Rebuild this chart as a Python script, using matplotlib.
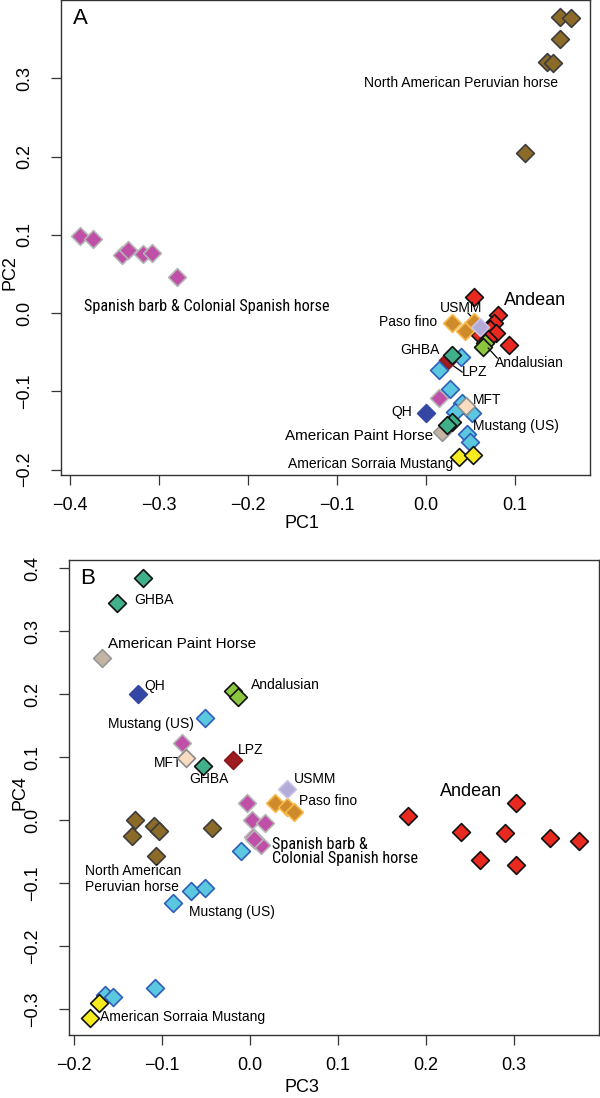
import numpy as np
import matplotlib
matplotlib.use("Agg")
from matplotlib import pyplot as plt
from matplotlib import font_manager

plt.rcParams['font.family'] = ['Liberation Sans', 'DejaVu Sans']

# PCA scores, one group per breed
andean_pc1 = [0.054, 0.081, 0.076, 0.072, 0.078, 0.061, 0.070, 0.0925]
andean_pc2 = [0.020, -0.003, -0.013, -0.020, -0.026, -0.028, -0.033, -0.041]
andean_pc3 = [0.302, 0.180, 0.240, 0.290, 0.341, 0.374, 0.262, 0.303]
andean_pc4 = [0.028, 0.006, -0.0185, -0.0196, -0.029, -0.033, -0.0627, -0.0714]

peruvian_pc1 = [0.1498, 0.163, 0.1498, 0.1356, 0.143, 0.111]
peruvian_pc2 = [0.378, 0.377, 0.350, 0.3206, 0.320, 0.204]
peruvian_pc3 = [-0.1307, -0.109, -0.1034, -0.1345, -0.0435, -0.107]
peruvian_pc4 = [0.0, -0.009, -0.0175, -0.0254, -0.013, -0.0567]

barb_pc1 = [-0.389, -0.3745, -0.342, -0.335, -0.318, -0.308, -0.280, 0.0146]
barb_pc2 = [0.098, 0.094, 0.074, 0.080, 0.075, 0.077, 0.046, -0.108]
barb_pc3 = [-0.0776, -0.004, 0.0027, 0.017, 0.003, 0.006, 0.013, 0.005]
barb_pc4 = [0.1227, 0.0265, 0.0, -0.005, -0.0265, -0.032, -0.040, -0.030]

pasofino_pc1 = [0.0289, 0.0438, 0.054]
pasofino_pc2 = [-0.0132, -0.0226, -0.011]
pasofino_pc3 = [0.0284, 0.0417, 0.050]
pasofino_pc4 = [0.0275, 0.021, 0.013]

usmm_pc1 = [0.0607]
usmm_pc2 = [-0.0175]
usmm_pc3 = [0.0424]
usmm_pc4 = [0.050]

andalusian_pc1 = [0.0663, 0.0644]
andalusian_pc2 = [-0.0388, -0.043]
andalusian_pc3 = [-0.019, -0.014]
andalusian_pc4 = [0.205, 0.196]

ghba_pc1 = [0.0296, 0.0289, 0.0233]
ghba_pc2 = [-0.0537, -0.139, -0.1432]
ghba_pc3 = [-0.122, -0.1515, -0.0538]
ghba_pc4 = [0.385, 0.345, 0.086]

lpz_pc1 = [0.025]
lpz_pc2 = [-0.060]
lpz_pc3 = [-0.0197]
lpz_pc4 = [0.095]

mustang_pc1 = [0.0393, 0.0146, 0.027, 0.040, 0.0326, 0.0513, 0.0457, 0.0494]
mustang_pc2 = [-0.056, -0.0729, -0.0976, -0.1155, -0.126, -0.1283, -0.154, -0.1646]
mustang_pc3 = [-0.051, -0.0102, -0.0674, -0.051, -0.088, -0.108, -0.165, -0.156]
mustang_pc4 = [0.162, -0.049, -0.1127, -0.108, -0.1307, -0.266, -0.277, -0.2806]

mft_pc1 = [0.045]
mft_pc2 = [-0.1185]
mft_pc3 = [-0.073]
mft_pc4 = [0.098]

qh_pc1 = [0.0]
qh_pc2 = [-0.1275]
qh_pc3 = [-0.127]
qh_pc4 = [0.200]

paint_pc1 = [0.0176]
paint_pc2 = [-0.1518]
paint_pc3 = [-0.169]
paint_pc4 = [0.258]

sorraia_pc1 = [0.0374, 0.0525]
sorraia_pc2 = [-0.1838, -0.1816]
sorraia_pc3 = [-0.1716, -0.1826]
sorraia_pc4 = [-0.290, -0.3135]

ticks_pc1 = [-0.4, -0.3, -0.2, -0.1, 0.0, 0.1]
ticks_pc2 = [-0.2, -0.1, 0.0, 0.1, 0.2, 0.3]
ticks_pc3 = [-0.2, -0.1, 0.0, 0.1, 0.2, 0.3]
ticks_pc4 = [-0.3, -0.2, -0.1, 0.0, 0.1, 0.2, 0.3, 0.4]

# drawing order, face colour, edge colour
groups = [
    (barb_pc1, barb_pc2, barb_pc3, barb_pc4, '#c04fa8', '#b4b4b4'),
    (peruvian_pc1, peruvian_pc2, peruvian_pc3, peruvian_pc4, '#8c6a28', '#3c3c3c'),
    (andean_pc1, andean_pc2, andean_pc3, andean_pc4, '#e8291f', '#111111'),
    (pasofino_pc1, pasofino_pc2, pasofino_pc3, pasofino_pc4, '#cf8a2c', '#f6b94a'),
    (usmm_pc1, usmm_pc2, usmm_pc3, usmm_pc4, '#b3acd9', '#c9c2e8'),
    (andalusian_pc1, andalusian_pc2, andalusian_pc3, andalusian_pc4, '#8cc63f', '#111111'),
    (lpz_pc1, lpz_pc2, lpz_pc3, lpz_pc4, '#9e1b20', '#8a161a'),
    (paint_pc1, paint_pc2, paint_pc3, paint_pc4, '#c4b4a4', '#969696'),
    (mustang_pc1, mustang_pc2, mustang_pc3, mustang_pc4, '#5bc8e0', '#2e5eb8'),
    (ghba_pc1, ghba_pc2, ghba_pc3, ghba_pc4, '#40b08a', '#111111'),
    (mft_pc1, mft_pc2, mft_pc3, mft_pc4, '#fadcc0', '#8c8c8c'),
    (qh_pc1, qh_pc2, qh_pc3, qh_pc4, '#3447a5', '#3447a5'),
    (sorraia_pc1, sorraia_pc2, sorraia_pc3, sorraia_pc4, '#f5eb1e', '#111111'),
]


# look for any narrow/condensed upright regular face for the "Spanish barb" labels
def find_narrow():
    best = None
    for f in font_manager.fontManager.ttflist:
        if f.style != 'normal':
            continue
        if str(f.weight) not in ('400', 'normal', 'regular', 'book'):
            continue
        nm = (f.name + ' ' + f.fname).lower()
        is_narrow = ('narrow' in nm or 'condensed' in nm or 'cond' in nm
                     or str(f.stretch) in ('condensed', 'semi-condensed', 'extra-condensed')
                     or (isinstance(f.stretch, int) and f.stretch < 500))
        if not is_narrow or 'mono' in nm or 'serif' in nm and 'sans' not in nm:
            continue
        rank = 0 if 'liberation' in nm else 1 if 'roboto' in nm else 2 if 'open' in nm else 3
        if best is None or rank < best[0]:
            best = (rank, f.fname)
    return best[1] if best else None


narrow = find_narrow()
if narrow is not None:
    narrow_fp = font_manager.FontProperties(fname=narrow)
else:
    narrow_fp = font_manager.FontProperties(family='Liberation Sans')

W, H = 600, 1098
fig = plt.figure(figsize=(W / 100, H / 100), dpi=100)


def px_axes(l, t, r, b):
    return fig.add_axes([l / W, 1 - b / H, (r - l) / W, (b - t) / H])


def fmt(v):
    return ('%.1f' % v).replace('-', '\u2212') if abs(v) > 1e-9 else '0.0'


def style(ax, xt, yt):
    ax.set_xticks(xt)
    ax.set_yticks(yt)
    ax.set_xticklabels([fmt(v) for v in xt])
    ax.set_yticklabels([fmt(v) for v in yt])
    ax.tick_params(direction='out', length=7, width=0.9, labelsize=13, color='#333333')
    ax.tick_params(axis='x', pad=9)
    ax.tick_params(axis='y', labelrotation=90, pad=13)
    for lbl in ax.get_yticklabels():
        lbl.set_va('center')
    for s in ax.spines.values():
        s.set_linewidth(1.0)
        s.set_color('#333333')


def fit_width(t, target_px):
    fig.canvas.draw()
    w = t.get_window_extent().width
    t.set_fontsize(t.get_fontsize() * target_px / w)


MS = 82
LW = 1.2

# ---- panel A: PC1 vs PC2
axA = px_axes(61, 0, 590, 475)
for g in groups:
    axA.scatter(g[0], g[1], marker='D', s=MS, c=g[4], edgecolors=g[5], linewidths=LW, zorder=3)
axA.set_xlim(-0.410, 0.184)
axA.set_ylim(-0.207, 0.400)
style(axA, ticks_pc1, ticks_pc2)
axA.text(0.023, 0.962, 'A', transform=axA.transAxes, fontsize=16, va='center', ha='left')

fs = 10
axA.text(0.148, 0.294, 'North American Peruvian horse', fontsize=fs, ha='right', va='center')
spA = axA.text(-0.384, 0.008, 'Spanish barb & Colonial Spanish horse', fontproperties=narrow_fp,
               fontsize=13, ha='left', va='center')
axA.text(0.0876, 0.0166, 'Andean', fontsize=13, ha='left', va='center')
axA.text(0.039, 0.006, 'USMM', fontsize=fs, ha='center', va='center')
axA.text(0.012, -0.011, 'Paso fino', fontsize=fs, ha='right', va='center')
axA.text(0.0775, -0.064, 'Andalusian', fontsize=fs, ha='left', va='center')
axA.text(0.0146, -0.047, 'GHBA', fontsize=fs, ha='right', va='center')
axA.text(0.040, -0.075, 'LPZ', fontsize=fs, ha='left', va='center')
axA.text(0.053, -0.111, 'MFT', fontsize=fs, ha='left', va='center')
axA.text(-0.016, -0.126, 'QH', fontsize=fs, ha='right', va='center')
axA.text(0.0525, -0.145, 'Mustang (US)', fontsize=fs, ha='left', va='center')
axA.text(0.0079, -0.157, 'American Paint Horse', fontsize=11, ha='right', va='center')
axA.text(0.030, -0.193, 'American Sorraia Mustang', fontsize=fs, ha='right', va='center')
axA.plot([0.047, 0.057], [0.0, -0.0128], color='black', lw=0.9, zorder=2)
axA.plot([0.0697, 0.0798], [-0.0448, -0.0575], color='black', lw=0.9, zorder=4)
axA.plot([0.0247, 0.0404], [-0.0627, -0.0754], color='black', lw=0.9, zorder=2)

fig.text(302 / W, 1 - 523 / H, 'PC1', fontsize=13, ha='center', va='center')
fig.text(10 / W, 1 - 273 / H, 'PC2', fontsize=13, ha='center', va='center', rotation=90)

# ---- panel B: PC3 vs PC4
axB = px_axes(69, 560, 599, 1035)
for g in groups:
    axB.scatter(g[2], g[3], marker='D', s=MS, c=g[4], edgecolors=g[5], linewidths=LW, zorder=3)
axB.set_xlim(-0.206, 0.397)
axB.set_ylim(-0.341, 0.413)
style(axB, ticks_pc3, ticks_pc4)
axB.text(0.021, 0.962, 'B', transform=axB.transAxes, fontsize=16, va='center', ha='left')

axB.text(-0.132, 0.350, 'GHBA', fontsize=fs, ha='left', va='center')
axB.text(-0.162, 0.280, 'American Paint Horse', fontsize=11, ha='left', va='center')
axB.text(-0.1205, 0.213, 'QH', fontsize=fs, ha='left', va='center')
axB.text(0.001, 0.214, 'Andalusian', fontsize=fs, ha='left', va='center')
axB.text(-0.0644, 0.153, 'Mustang (US)', fontsize=fs, ha='right', va='center')
axB.text(-0.0144, 0.111, 'LPZ', fontsize=fs, ha='left', va='center')
axB.text(-0.0765, 0.091, 'MFT', fontsize=fs, ha='right', va='center', zorder=2)
axB.text(-0.047, 0.065, 'GHBA', fontsize=fs, ha='center', va='center')
axB.text(0.050, 0.0646, 'USMM', fontsize=fs, ha='left', va='center')
axB.text(0.0557, 0.0306, 'Paso fino', fontsize=fs, ha='left', va='center')
spB = axB.text(0.0247, -0.050, 'Spanish barb &\nColonial Spanish horse', fontproperties=narrow_fp,
               fontsize=13, ha='left', va='center', linespacing=0.95)
axB.text(0.216, 0.045, 'Andean', fontsize=13, ha='left', va='center')
axB.text(-0.188, -0.0937, 'North American\nPeruvian horse', fontsize=fs, ha='left', va='center')
axB.text(-0.070, -0.1465, 'Mustang (US)', fontsize=fs, ha='left', va='center')
axB.text(-0.171, -0.312, 'American Sorraia Mustang', fontsize=fs, ha='left', va='center')

fig.text(302 / W, 1 - 1087 / H, 'PC3', fontsize=13, ha='center', va='center')
fig.text(20 / W, 1 - 793 / H, 'PC4', fontsize=13, ha='center', va='center', rotation=90)

# squeeze the long labels to the width they have in the original
fit_width(spA, 246)
fit_width(spB, 146)

fig.savefig('out.png', dpi=100)
